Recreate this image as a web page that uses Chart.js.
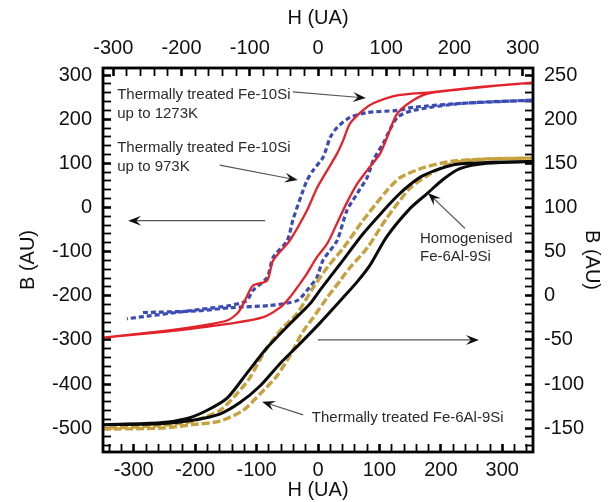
<!DOCTYPE html>
<html><head><meta charset="utf-8">
<script src="https://cdn.jsdelivr.net/npm/chart.js@4.4.0/dist/chart.umd.min.js"></script>
<style>html,body{margin:0;padding:0;background:#fff}</style>
</head><body>
<canvas id="c" width="610" height="502"></canvas>
<script>
// ---- tick labels ----
const bottomTicks = [-300,-200,-100,0,100,200,300];
const topTicks = [-300,-200,-100,0,100,200,300];
const leftTicks = [-500,-400,-300,-200,-100,0,100,200,300];
const rightTicks = [-150,-100,-50,0,50,100,150,200,250];

// ---- Fe-10Si treated up to 1273K (red, left axis) ----
const red1273H = [-350,-246,-192,-143,-90,-62,-46,-29,-18,-2,15,31,47,64,80,101,117,129,155,182,264,350,
                  264,182,129,90,73,52,41,31,15,-2,-18,-46,-73,-83,-106,-119,-130,-148,-192,-246,-350];
const red1273B = [-295,-281,-272,-263,-249,-227,-204,-172,-150,-113,-82,-36,11,54,84,122,175,213,243,259,272,283,
                  273,261,254,236,220,190,152,122,84,43,-7,-75,-120,-166,-177,-211,-238,-256,-268,-279,-295];

// ---- Fe-10Si treated up to 973K (blue dashed, left axis) ----
const blue973H = [-285,-192,-143,-78,-34,-18,-2,8,31,47,64,80,90,106,129,155,236,350,
                  236,155,129,80,52,31,20,8,-8,-18,-26,-41,-50,-73,-83,-106,-116,-143,-192,-311];
const blue973B = [-238,-234,-227,-222,-211,-188,-159,-120,-75,-7,32,68,107,145,204,220,236,243,
                  236,227,220,215,204,181,159,113,84,61,32,-29,-75,-113,-159,-188,-211,-222,-231,-252];

// ---- Homogenised Fe-6Al-9Si (black, right axis) ----
const homH = [-350,-257,-204,-160,-127,-94,-62,-29,3,41,64,85,112,150,178,204,231,275,350,
              275,226,199,171,150,129,106,73,36,3,-13,-46,-83,-116,-148,-181,-213,-257,-350];
const homB = [-146,-145,-141,-134,-121,-102,-77,-54,-31,-2,16,35,67,99,116,132,144,150,152,
              151,149,144,136,126,113,96,70,36,6,-9,-32,-59,-88,-116,-130,-139,-144,-146];

// ---- Thermally treated Fe-6Al-9Si (gold dashed, right axis) ----
const goldH = [-350,-257,-204,-160,-122,-94,-67,-46,-24,-8,15,36,52,80,112,150,178,204,231,275,350,
               275,226,199,171,134,112,73,41,15,-8,-34,-57,-86,-111,-132,-160,-204,-257,-350];
const goldB = [-151,-150,-146,-142,-130,-111,-91,-68,-40,-25,-2,17,32,54,88,122,136,146,152,155,156,
               155,153,150,145,134,119,85,54,32,9,-20,-36,-62,-93,-111,-130,-142,-147,-150];

const zip = (H,B) => H.map((h,i)=>({x:h,y:B[i]}));

// annotations (in bottom-H / left-B data units)
const notes = [
  {t:'Thermally treated Fe-10Si', h:-327, b:255},
  {t:'up to 1273K', h:-327, b:213},
  {t:'Thermally treated Fe-10Si', h:-327, b:134},
  {t:'up to 973K', h:-327, b:91},
  {t:'Homogenised', h:166, b:-72},
  {t:'Fe-6Al-9Si', h:166, b:-113},
  {t:'Thermally treated Fe-6Al-9Si', h:-10, b:-477}
];
const arrows = [
  {from:[-41,262], to:[78,248]},
  {from:[-160,96], to:[-33,62]},
  {from:[-86,-30], to:[-309,-30]},
  {from:[0,-300], to:[262,-300]},
  {from:[239,-47], to:[179,33]},
  {from:[-24,-470], to:[-91,-440]}
];

const F = "'Liberation Sans', Arial, sans-serif";

const decor = {
  id:'decor',
  afterDraw(chart){
    const ctx = chart.ctx, a = chart.chartArea;
    const sx = chart.scales.x, sy = chart.scales.y;
    ctx.save();
    ctx.setLineDash([]);
    ctx.strokeStyle = '#000';
    ctx.lineWidth = 2.8;
    ctx.strokeRect(a.left, a.top, a.right - a.left, a.bottom - a.top);
    arrows.forEach(ar => {
      const x1 = sx.getPixelForValue(ar.from[0]), y1 = sy.getPixelForValue(ar.from[1]);
      const x2 = sx.getPixelForValue(ar.to[0]), y2 = sy.getPixelForValue(ar.to[1]);
      const ang = Math.atan2(y2 - y1, x2 - x1);
      const c = Math.cos(ang), s = Math.sin(ang);
      ctx.strokeStyle = '#555'; ctx.lineWidth = 1.2;
      ctx.beginPath(); ctx.moveTo(x1, y1); ctx.lineTo(x2 - 6*c, y2 - 6*s); ctx.stroke();
      ctx.fillStyle = '#111';
      ctx.beginPath();
      ctx.moveTo(x2, y2);
      ctx.lineTo(x2 - 13*c + 5*s, y2 - 13*s - 5*c);
      ctx.lineTo(x2 - 8*c, y2 - 8*s);
      ctx.lineTo(x2 - 13*c - 5*s, y2 - 13*s + 5*c);
      ctx.closePath(); ctx.fill();
    });
    ctx.fillStyle = '#2b2b2b';
    ctx.font = "15px " + F;
    ctx.textBaseline = 'middle'; ctx.textAlign = 'left';
    notes.forEach(n => ctx.fillText(n.t, sx.getPixelForValue(n.h), sy.getPixelForValue(n.b)));
    ctx.restore();
  }
};

const tickFont = {family:F, size:20};
const titleFont = {family:F, size:20};
// axis: labelled ticks plus inward minor tick marks every `minor` units
const axis = (labels, minor, lo, hi, pad) => ({
  type:'linear',
  grid:{display:true, drawOnChartArea:false, drawTicks:true, tickLength:-8, color:'#000',
        tickColor:'#000', tickWidth: c => (labels.includes(c.tick && c.tick.value) ? 2.6 : 1.8)},
  border:{display:false},
  afterBuildTicks: s => {
    const t = [];
    for (let i = Math.ceil(lo / minor); i * minor <= hi; i++) t.push({value: i * minor});
    s.ticks = t;
  },
  ticks:{font:tickFont, color:'#111', padding:pad + 8, maxRotation:0, autoSkip:false,
         callback: v => labels.includes(v) ? String(v) : ''}
});

new Chart(document.getElementById('c'), {
  type:'scatter',
  data:{datasets:[
    {label:'Homogenised Fe-6Al-9Si', data:zip(homH,homB), yAxisID:'y2', borderColor:'#0a0a0a', borderWidth:3},
    {label:'Thermally treated Fe-6Al-9Si', data:zip(goldH,goldB), yAxisID:'y2', borderColor:'#c6a23e', borderWidth:3.4, borderDash:[8,3]},
    {label:'Thermally treated Fe-10Si up to 1273K', data:zip(red1273H,red1273B), yAxisID:'y', borderColor:'#e3232b', borderWidth:2.3},
    {label:'Thermally treated Fe-10Si up to 973K', data:zip(blue973H,blue973B), yAxisID:'y', borderColor:'#3a4bb3', borderWidth:3.2, borderDash:[5,3]}
  ].map(d => Object.assign({showLine:true, pointRadius:0, tension:0.25, fill:false, xAxisID:'x'}, d))},
  options:{
    responsive:false, animation:false, devicePixelRatio:1,
    layout:{padding:0},
    plugins:{legend:{display:false}, tooltip:{enabled:false}},
    scales:{
      x: Object.assign(axis(bottomTicks, 20, -340, 340, 6), {position:'bottom', min:-350, max:350,
          afterFit: s => { s.height = 50; },
          title:{display:true, text:'H (UA)', font:titleFont, color:'#111', padding:{top:0,bottom:0}}}),
      x2: Object.assign(axis(topTicks, 20, -300, 300, 8), {position:'top', min:-315, max:315,
          afterFit: s => { s.height = 68; },
          title:{display:true, text:'H (UA)', font:titleFont, color:'#111', padding:{top:6,bottom:0}}}),
      y: Object.assign(axis(leftTicks, 20, -540, 300, 11), {position:'left', min:-554, max:316,
          afterFit: s => { s.width = 103; },
          title:{display:true, text:'B (AU)', font:titleFont, color:'#111', padding:{top:16,bottom:0}}}),
      y2: Object.assign(axis(rightTicks, 10, -170, 250, 11), {position:'right', min:-177, max:258,
          afterFit: s => { s.width = 77; },
          title:{display:true, text:'B (AU)', font:titleFont, color:'#111', padding:{top:6,bottom:0}}})
    }
  },
  plugins:[decor]
});
</script>
</body></html>
